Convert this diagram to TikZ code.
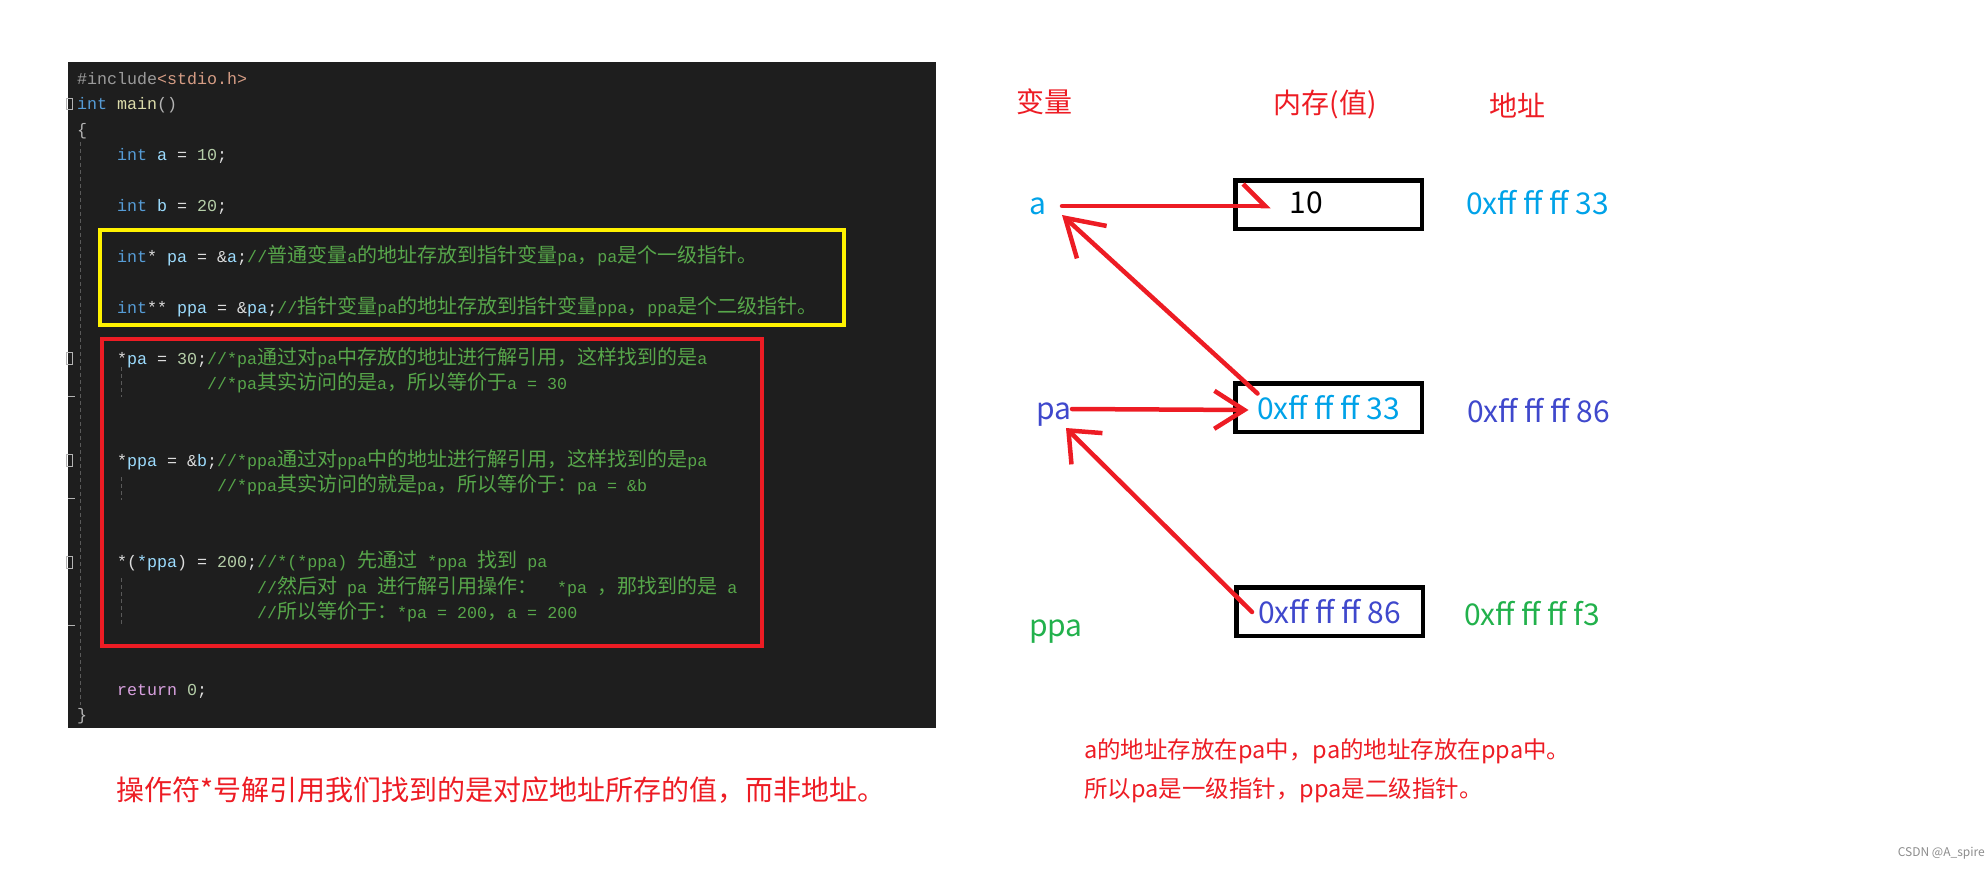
\documentclass[tikz,border=0pt]{standalone}
\usepackage{fontspec}
\setmainfont{Noto Sans CJK SC}
\newfontfamily\cjk{Noto Sans CJK SC}
\newfontfamily\codefont{Liberation Mono}
\usepackage{tikz}
\usetikzlibrary{arrows.meta,positioning,calc}

\definecolor{pred}{HTML}{ED1C24}
\definecolor{pyellow}{HTML}{FFF200}
\definecolor{pcyan}{HTML}{00A2E8}
\definecolor{pindigo}{HTML}{3F48CC}
\definecolor{pgreen}{HTML}{22B14C}
\definecolor{codebg}{HTML}{1E1E1E}
\definecolor{cguide}{HTML}{5A5A5A}
\definecolor{ckw}{HTML}{569CD6}
\definecolor{cid}{HTML}{9CDCFE}
\definecolor{cpl}{HTML}{DCDCDC}
\definecolor{cop}{HTML}{B4B4B4}
\definecolor{cnum}{HTML}{B5CEA8}
\definecolor{ccom}{HTML}{57A64A}
\definecolor{cpre}{HTML}{9B9B9B}
\definecolor{cstr}{HTML}{D69D85}
\definecolor{cfun}{HTML}{DCDCAA}
\definecolor{cret}{HTML}{D8A0DF}

\newcommand{\zht}[1]{{\cjk\fontsize{20}{24}\selectfont #1}}
\newcommand{\kwd}[1]{\textcolor{ckw}{#1}}
\newcommand{\idf}[1]{\textcolor{cid}{#1}}
\newcommand{\numb}[1]{\textcolor{cnum}{#1}}
\newcommand{\cmt}[1]{\textcolor{ccom}{#1}}

\tikzset{
  code/.style={anchor=base west, inner sep=0pt, text=cpl,
    font=\codefont\fontsize{16.67}{20}\selectfont},
  guide/.style={draw=cguide, line width=1pt, dash pattern=on 4pt off 3pt},
  head/.style={inner sep=0pt, text=pred, font=\fontsize{28}{34}\selectfont},
  lbl/.style={inner sep=0pt, font=\fontsize{30}{36}\selectfont},
  membox/.style={draw=black, line width=4.5pt, minimum width=186.5pt,
    minimum height=48.5pt, inner sep=0pt, font=\fontsize{30}{36}\selectfont},
  ptr/.style={draw=pred, line width=4.5pt, line cap=round, line join=round},
  note/.style={anchor=west, inner sep=0pt, text=pred}
}

\begin{document}
\begin{tikzpicture}[x=1pt,y=-1pt]
    \useasboundingbox (0,0) rectangle (1988,870);

    % code panel
    \fill[codebg] (68,62) rectangle (936,728);
    \draw[guide] (80,142) -- (80,705);
    \draw[guide] (121,367) -- (121,397);
    \draw[guide] (121,477) -- (121,500);
    \draw[guide] (121,578) -- (121,625);
    \draw[cop, line width=0.8pt] (66.5,98) rectangle (72.5,109);
    \draw[cop, line width=0.8pt] (66.5,352) rectangle (72.5,364);
    \draw[cop, line width=0.8pt] (66.5,454) rectangle (72.5,466);
    \draw[cop, line width=0.8pt] (66.5,556) rectangle (72.5,568);
    \draw[cop, line width=0.8pt] (68,396) -- (75,396);
    \draw[cop, line width=0.8pt] (68,498) -- (75,498);
    \draw[cop, line width=0.8pt] (68,625) -- (75,625);

    \node[code] (l0) at (77,84) {\textcolor{cpre}{\#include}\textcolor{cstr}{<stdio.h>}};
    \node[code] (l1) at (77,109.5) {\kwd{int} \textcolor{cfun}{main}\textcolor{cop}{()}};
    \node[code] (l2) at (77,135) {\textcolor{cop}{\{}};
    \node[code] (l3) at (117,160.4) {\kwd{int} \idf{a} = \numb{10};};
    \node[code] (l5) at (117,211.4) {\kwd{int} \idf{b} = \numb{20};};
    \node[code] (l7) at (117,262.3) {\kwd{int}* \idf{pa} = \&\idf{a};\cmt{//\zht{普通变量}a\zht{的地址存放到指针变量}pa\zht{，}pa\zht{是个一级指针。}}};
    \node[code] (l9) at (117,313.2) {\kwd{int}** \idf{ppa} = \&\idf{pa};\cmt{//\zht{指针变量}pa\zht{的地址存放到指针变量}ppa\zht{，}ppa\zht{是个二级指针。}}};
    \node[code] (l11) at (117,364.2) {*\idf{pa} = \numb{30};\cmt{//*pa\zht{通过对}pa\zht{中存放的地址进行解引用，这样找到的是}a}};
    \node[code] (l12) at (207,389.6) {\cmt{//*pa\zht{其实访问的是}a\zht{，所以等价于}a = 30}};
    \node[code] (l15) at (117,466) {*\idf{ppa} = \&\idf{b};\cmt{//*ppa\zht{通过对}ppa\zht{中的地址进行解引用，这样找到的是}pa}};
    \node[code] (l16) at (217,491.5) {\cmt{//*ppa\zht{其实访问的就是}pa\zht{，所以等价于：}pa = \&b}};
    \node[code] (l19) at (117,567.9) {*(\idf{*ppa}) = \numb{200};\cmt{//*(*ppa) \zht{先通过} *ppa \zht{找到} pa}};
    \node[code] (l20) at (257,593.4) {\cmt{//\zht{然后对} pa \zht{进行解引用操作：}\ \ *pa \zht{，那找到的是} a}};
    \node[code] (l21) at (257,618.9) {\cmt{//\zht{所以等价于：}*pa = 200\zht{，}a = 200}};
    \node[code] (l24) at (117,695.3) {\textcolor{cret}{return} \numb{0};};
    \node[code] (l25) at (77,720.8) {\textcolor{cop}{\}}};

    \draw[pyellow, line width=4pt] (100,230) rectangle (844,325);
    \draw[pred, line width=4pt] (102,339) rectangle (762,646);

    % variables, memory, addresses
    \node[head] (hvar) at (1044,102) {变量};
    \node[head] (hmem) at (1325,104) {内存(值)};
    \node[head] (hadr) at (1517,106) {地址};

    \node[lbl, text=pcyan] (a) at (1038,206) {a};
    \node[lbl, text=pindigo] (pa) at (1054,415) {pa};
    \node[lbl, text=pgreen] (ppa) at (1056,632) {ppa};

    \node[membox] (ma) at (1328.5,204.5) {};
    \node[lbl] (v10) at (1306,203) {10};
    \node[membox, text=pcyan] (mpa) at (1328.5,407.5) {0xff ff ff 33};
    \node[membox, text=pindigo] (mppa) at (1329.5,611.5) {0xff ff ff 86};

    \node[lbl, anchor=west, text=pcyan] (ada) at (1466,203) {0xff ff ff 33};
    \node[lbl, anchor=west, text=pindigo] (adpa) at (1467,411) {0xff ff ff 86};
    \node[lbl, anchor=west, text=pgreen] (adppa) at (1464,614) {0xff ff ff f3};

    \draw[ptr, -{Straight Barb[harpoon,length=22pt,width=44pt]}] ([shift={(24,0)}]a.center) -- ([shift={(-58,1.5)}]ma.center);
    \draw[ptr, -{Straight Barb[length=30pt,width=38pt]}] ([shift={(18,-6)}]pa.center) -- ([shift={(-80,2.5)}]mpa.center);
    \draw[ptr, -{Straight Barb[length=36pt,width=44pt]}] ([shift={(-71,-14)}]mpa.center) -- ([shift={(24,9)}]a.center);
    \draw[ptr, -{Straight Barb[length=26pt,width=44pt]}] ([shift={(-77.5,0.5)}]mppa.center) -- ([shift={(12,13)}]pa.center);

    % notes
    \node[note, font=\fontsize{28}{34}\selectfont] (n1) at (116,790) {操作符*号解引用我们找到的是对应地址所存的值，而非地址。};
    \node[note, font=\fontsize{23.5}{28}\selectfont] (n2) at (1084,751) {a的地址存放在pa中，pa的地址存放在ppa中。};
    \node[note, font=\fontsize{23.5}{28}\selectfont] (n3) at (1084,790) {所以pa是一级指针，ppa是二级指针。};
    \node[anchor=east, inner sep=0pt, text=black!45, font=\fontsize{12}{14}\selectfont] (wm) at (1985,853) {CSDN @A\_spire};
\end{tikzpicture}
\end{document}
